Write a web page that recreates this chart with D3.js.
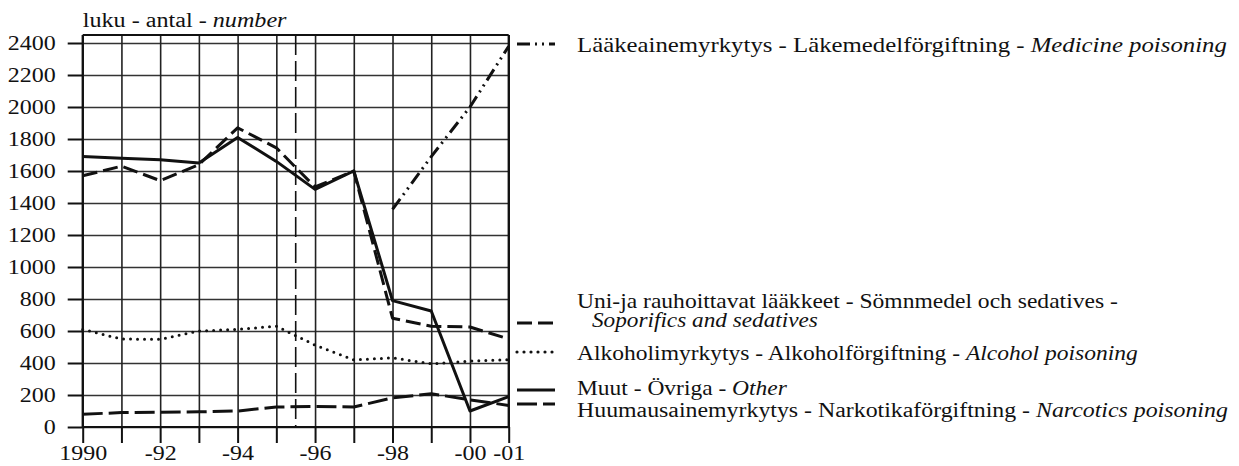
<!DOCTYPE html>
<meta charset="utf-8">
<style>
body { margin: 0; background: #fff; }
.domain { display: none; }
.line { fill: none; stroke: #111; stroke-width: 3px; stroke-linejoin: round; }
</style>
<body>
<script src="https://d3js.org/d3.v7.min.js"></script>
<script>

const years = [1990, 1991, 1992, 1993, 1994, 1995, 1996, 1997, 1998, 1999, 2000, 2001];
const xLabels = {1990: "1990", 1992: "-92", 1994: "-94", 1996: "-96", 1998: "-98", 2000: "-00", 2001: "-01"};
const yTicks = [0, 200, 400, 600, 800, 1000, 1200, 1400, 1600, 1800, 2000, 2200, 2400];

const medicine  = [null, null, null, null, null, null, null, null, 1360, 1690, 2000, 2380];
const sedatives = [1570, 1630, 1540, 1640, 1870, 1745, 1500, 1600, 680, 630, 625, 550];
const alcohol   = [610, 550, 548, 600, 610, 630, 512, 420, 432, 395, 412, 420];
const other     = [1690, 1680, 1670, 1650, 1810, 1660, 1485, 1600, 790, 725, 100, 190];
const narcotics = [80, 90, 92, 95, 100, 125, 128, 125, 182, 208, 170, 135];

const breakYear = 1995.5;

const series = [
  {name: "medicine", values: medicine, dash: "13,5,2,5,2,5"},
  {name: "sedatives", values: sedatives, dash: "15,6"},
  {name: "alcohol", values: alcohol, dash: "0,7", cap: "round"},
  {name: "other", values: other, dash: null},
  {name: "narcotics", values: narcotics, dash: "20,6"}
];

const legend = [
  {dash: "13,5,2,5,2,5", y: 44, ty: 52,
   lines: [{w: 650, parts: [{t: "Lääkeainemyrkytys - Läkemedelförgiftning - "}, {t: "Medicine poisoning", i: true}]}]},
  {dash: "15,6", y: 323, ty: 308,
   lines: [{w: 541, parts: [{t: "Uni-ja rauhoittavat lääkkeet - Sömnmedel och sedatives -"}]},
           {w: 226, indent: 15, parts: [{t: "Soporifics and sedatives", i: true}]}]},
  {dash: "0,7", cap: "round", y: 352, ty: 360,
   lines: [{w: 561, parts: [{t: "Alkoholimyrkytys - Alkoholförgiftning - "}, {t: "Alcohol poisoning", i: true}]}]},
  {dash: null, y: 390, ty: 395,
   lines: [{w: 210, parts: [{t: "Muut - Övriga - "}, {t: "Other", i: true}]}]},
  {dash: "20,6", y: 404, ty: 417,
   lines: [{w: 651, parts: [{t: "Huumausainemyrkytys - Narkotikaförgiftning - "}, {t: "Narcotics poisoning", i: true}]}]}
];

const width = 1239, height = 466;
const margin = {left: 82.7, right: 730.3, top: 43, bottom: 39};
const innerW = width - margin.left - margin.right;
const innerH = height - margin.top - margin.bottom;
const fs = 20;
const sx = 1.2;   // the scanned original's type is wider than Times

const x = d3.scaleLinear().domain([1990, 2001]).range([0, innerW]);
const y = d3.scaleLinear().domain([0, 2400]).range([innerH, 0]);
const topY = y(2450);

const svg = d3.select("body").append("svg")
    .attr("width", width)
    .attr("height", height);

const g = svg.append("g")
    .attr("transform", `translate(${margin.left},${margin.top})`);

// grid
g.append("g")
    .call(d3.axisLeft(y).tickValues(yTicks).tickSize(-innerW).tickFormat(""))
    .call(s => s.selectAll("line").attr("stroke", "#333").attr("stroke-width", 1.3));

g.append("g")
    .call(d3.axisBottom(x).tickValues(years).tickSize(innerH - topY).tickFormat(""))
    .attr("transform", `translate(0,${topY})`)
    .call(s => s.selectAll("line").attr("stroke", "#222").attr("stroke-width", 1.6));

// frame
const frame = [[0, topY, innerW, topY], [innerW, topY, innerW, innerH], [0, topY, 0, innerH]];
g.selectAll(".frame").data(frame).enter().append("line")
    .attr("x1", d => d[0]).attr("y1", d => d[1]).attr("x2", d => d[2]).attr("y2", d => d[3])
    .attr("stroke", "#111").attr("stroke-width", 2.2);

// statistics break
g.append("line")
    .attr("x1", x(breakYear)).attr("x2", x(breakYear))
    .attr("y1", topY).attr("y2", innerH)
    .attr("stroke", "#111").attr("stroke-width", 1.6)
    .attr("stroke-dasharray", "20,6");

// axes
const yAxis = g.append("g")
    .call(d3.axisLeft(y).tickValues(yTicks).tickSize(15).tickPadding(12).tickFormat(d3.format("d")));
yAxis.selectAll("line").attr("stroke", "#111").attr("stroke-width", 2);
yAxis.selectAll("text").attr("dy", "0.34em");

const xAxis = g.append("g")
    .attr("transform", `translate(0,${innerH})`)
    .call(d3.axisBottom(x).tickValues(years).tickSize(16).tickPadding(3)
      .tickFormat(d => xLabels[d] || ""));
xAxis.selectAll("line").attr("stroke", "#111").attr("stroke-width", 2);
g.append("line").attr("x1", 0).attr("x2", innerW).attr("y1", innerH).attr("y2", innerH)
    .attr("stroke", "#111").attr("stroke-width", 2.2);

// unit label
svg.append("text")
    .attr("x", margin.left).attr("y", 27)
    .attr("data-w", 204)
    .call(t => {
      t.append("tspan").text("luku - antal - ");
      t.append("tspan").style("font-style", "italic").text("number");
    });

// lines
const line = d3.line()
    .defined(d => d.v != null)
    .x(d => x(d.year))
    .y(d => y(d.v));

g.selectAll(".line")
    .data(series)
  .enter().append("path")
    .attr("class", "line")
    .attr("d", s => line(years.map((yr, i) => ({year: yr, v: s.values[i]}))))
    .attr("stroke-dasharray", s => s.dash)
    .attr("stroke-linecap", s => s.cap || "butt");

// legend
const lg = svg.append("g");
legend.forEach(l => {
  lg.append("line")
      .attr("x1", 517).attr("x2", 555).attr("y1", l.y).attr("y2", l.y)
      .attr("stroke", "#111").attr("stroke-width", 3.2)
      .attr("stroke-dasharray", l.dash)
      .attr("stroke-linecap", l.cap || "butt");
  l.lines.forEach((ln, k) => {
    const t = lg.append("text")
        .attr("x", 577 + (ln.indent || 0))
        .attr("y", l.ty + k * 19)
        .attr("data-w", ln.w);
    ln.parts.forEach(p => t.append("tspan").style("font-style", p.i ? "italic" : "normal").text(p.t));
  });
});

// all text: Times-like serif, widened to the original's proportions
svg.selectAll("text")
    .style("font-family", "'Liberation Serif', 'Times New Roman', serif")
    .style("font-size", fs + "px")
    .style("fill", "#111");

svg.selectAll("text").each(function() {
  const t = d3.select(this);
  const w = +t.attr("data-w");
  const k = w ? w / this.getComputedTextLength() : sx;
  const tx = +t.attr("x") || 0, ty = +t.attr("y") || 0;
  t.attr("x", 0).attr("y", 0)
   .attr("transform", `translate(${tx},${ty}) scale(${k},1)`);
});

</script>
